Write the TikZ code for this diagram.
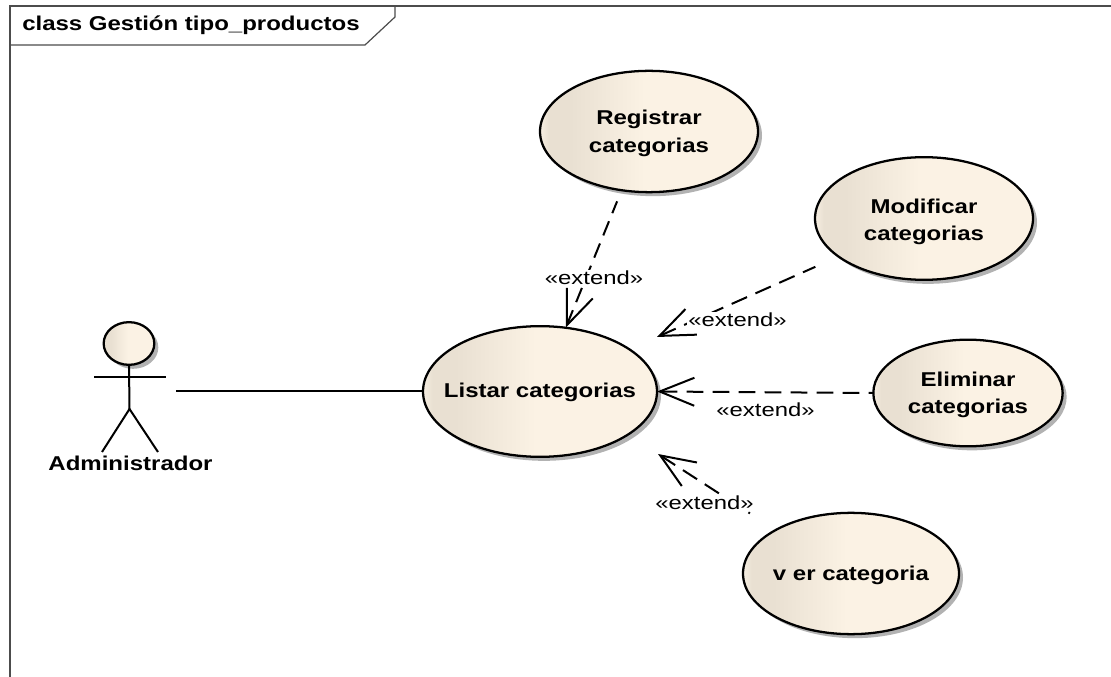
\documentclass[tikz,border=0pt]{standalone}
\usepackage{fontspec}
\usetikzlibrary{arrows.meta,shapes.geometric,shadows}
\setmainfont{Liberation Sans}
\newfontfamily\wfont[FakeStretch=1.26]{Liberation Sans}
\newfontfamily\bfont[FakeStretch=1.2]{Liberation Sans Bold}
\definecolor{cdark}{HTML}{E9E0D2}
\definecolor{cedge}{HTML}{F6EEE1}
\definecolor{clight}{HTML}{FBF2E4}
\pgfdeclarehorizontalshading{ucshade}{100bp}{color(0bp)=(cedge);color(25bp)=(cedge);color(27bp)=(cdark);color(32bp)=(cdark);color(49bp)=(clight);color(100bp)=(clight)}
\newcommand{\uctext}[2][-4.8pt]{\makebox[0pt]{\raisebox{#1}[0pt][0pt]{\begin{tabular}{@{}c@{}}#2\end{tabular}}}}
\tikzset{
  px/.style={x=0.75pt,y=-0.75pt},
  frameline/.style={draw=black!70,line width=0.9pt},
  uc/.style={ellipse,draw=black,line width=1.7pt,shading=ucshade,inner sep=0pt,outer sep=0pt,
    font=\bfont\fontsize{15}{20.3}\selectfont,text=black,
    drop shadow={shadow xshift=3pt,shadow yshift=-3pt,opacity=1,fill=black!30}},
  ucname/.style={font=\bfont\fontsize{15}{20.3}\selectfont,align=center,text=black},
  dep/.style={line width=1.5pt,dash pattern=on 12.6pt off 6.9pt,{Straight Barb[length=26pt,width=21pt,line width=1.5pt]}-},
  steep/.style={dash pattern=on 11.5pt off 6.5pt},
  stereo/.style={font=\wfont\fontsize{14.2}{17}\selectfont,fill=white,inner sep=1pt,text=black},
  stick/.style={line width=1.5pt,draw=black},
}
\begin{document}
\begin{tikzpicture}[px]
\useasboundingbox (0,0) rectangle (1111,677);
% frame
\coordinate (fa) at (10,677);
\coordinate (fb) at (10,6);
\coordinate (fc) at (1111,6);
\coordinate (ta) at (10,45);
\coordinate (tb) at (365,45);
\coordinate (tc) at (395,17);
\coordinate (td) at (395,6);
\draw[frameline] (fa) -- (fb) -- (fc);
\draw[frameline] (ta) -- (tb) -- (tc) -- (td);
\node[anchor=west,font=\bfont\fontsize{15}{17}\selectfont,inner sep=0pt] (title) at (22,25) {class Gestión tipo\_productos};
% use cases
\node[uc,minimum width=163.5pt,minimum height=91pt] (reg) at (649,131.5) {\uctext{Registrar\\categorias}};
\node[uc,minimum width=163.5pt,minimum height=92pt] (mod) at (924,218.5) {\uctext[-6pt]{Modificar\\categorias}};
\node[uc,minimum width=175.5pt,minimum height=98pt] (list) at (540,391.5) {\uctext[-3.8pt]{Listar categorias}};
\node[uc,minimum width=142pt,minimum height=80pt] (del) at (968,393) {\uctext{Eliminar\\categorias}};
\node[uc,minimum width=162pt,minimum height=91pt] (ver) at (851,573.5) {\uctext[-4.5pt]{v er categoria}};
% actor
\node[uc,minimum width=38pt,minimum height=32pt] (head) at (129,343.5) {};
\coordinate (hip) at (129.5,409);
\coordinate (armL) at (94,377);
\coordinate (armR) at (166,377);
\coordinate (footL) at (102,452);
\coordinate (footR) at (158,452);
\coordinate (actorEnd) at (176,391.5);
\draw[stick] (head.south) -- (hip);
\draw[stick] (armL) -- (armR);
\draw[stick] (footL) -- (hip) -- (footR);
\node[ucname] (admin) at (130.5,463) {Administrador};
\draw[stick] (actorEnd) -- (list.west);
% extends
\coordinate (t2) at (657,337);
\coordinate (t4) at (658,454);
\draw[dep,steep,shorten >=9pt] (list.68) -- (reg.245);
\draw[dep,shorten >=19pt] (t2) -- (mod.204);
\draw[dep] (list.east) -- (del.west);
\draw[dep,shorten >=23pt] (t4) -- (ver.150);
\node[stereo] (x1) at (594,278) {«extend»};
\node[stereo] (x2) at (737.5,320) {«extend»};
\node[stereo] (x3) at (765.5,410) {«extend»};
\node[stereo] (x4) at (704.5,503) {«extend»};
\end{tikzpicture}
\end{document}
